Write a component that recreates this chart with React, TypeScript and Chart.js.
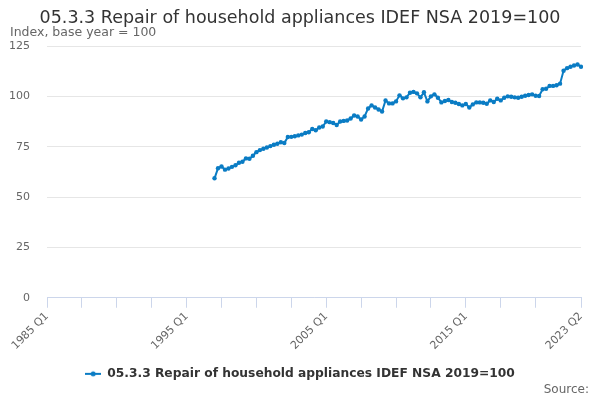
import { useEffect, useRef } from 'react';
import { Chart, registerables } from 'chart.js';

Chart.register(...registerables);

const FONT = '"DejaVu Sans", Verdana, sans-serif';
const TITLE = '05.3.3 Repair of household appliances IDEF NSA 2019=100';
const SUBTITLE = 'Index, base year = 100';
const SERIES_NAME = '05.3.3 Repair of household appliances IDEF NSA 2019=100';
const LINE_COLOR = '#0a7cc4';

// quarterly categories, 1985 Q1 .. 2023 Q2
const quarters: string[] = [];
for (let y = 1985; y <= 2023; y++) {
  for (let q = 1; q <= 4; q++) {
    if (y === 2023 && q > 2) break;
    quarters.push(`${y} Q${q}`);
  }
}

const labelledQuarters = ['1985 Q1', '1995 Q1', '2005 Q1', '2015 Q1', '2023 Q2'];
const yTicks = [0, 25, 50, 75, 100, 125];

// series begins in 1997 Q1
const firstQuarter = '1997 Q1';
const indexValues = [
  59.3, 64.3, 65.2, 63.6, 64.2, 65.0, 65.8, 67.0, 67.5, 69.2, 69.0, 70.5,
  72.3, 73.3, 74.0, 74.6, 75.3, 76.0, 76.5, 77.2, 76.8, 79.8, 79.9, 80.2,
  80.6, 81.0, 81.8, 82.2, 83.8, 83.2, 84.5, 85.0, 87.5, 87.2, 86.8, 85.8,
  87.5, 87.8, 88.0, 89.0, 90.5, 90.0, 88.5, 90.0, 94.0, 95.5, 94.5, 93.5,
  92.5, 98.0, 96.5, 96.5, 97.5, 100.5, 99.0, 99.5, 101.8, 102.2, 101.5, 99.5,
  102.0, 97.5, 100.0, 101.0, 99.3, 97.0, 97.7, 98.2, 97.2, 96.8, 96.2, 95.5,
  96.2, 94.5, 96.0, 97.0, 97.0, 96.8, 96.3, 98.0, 97.2, 98.8, 98.0, 99.3,
  100.0, 99.8, 99.5, 99.3, 99.8, 100.3, 100.7, 101.0, 100.3, 100.2, 103.5, 103.8,
  105.2, 105.2, 105.5, 106.3, 112.7, 114.0, 114.7, 115.3, 115.8, 114.7,
];

const sourceNote = {
  id: 'sourceNote',
  afterDraw(chart: Chart) {
    const { ctx } = chart;
    ctx.save();
    ctx.font = `12px ${FONT}`;
    ctx.fillStyle = '#666666';
    ctx.textAlign = 'right';
    ctx.textBaseline = 'middle';
    ctx.fillText('Source:', 589, 390);
    ctx.restore();
  },
};

function makeLegendIcon() {
  const c = document.createElement('canvas');
  c.width = 16;
  c.height = 8;
  const g = c.getContext('2d')!;
  g.strokeStyle = LINE_COLOR;
  g.lineWidth = 2;
  g.beginPath();
  g.moveTo(0, 4);
  g.lineTo(16, 4);
  g.stroke();
  g.fillStyle = LINE_COLOR;
  g.beginPath();
  g.arc(8, 4, 2.5, 0, Math.PI * 2);
  g.fill();
  return c;
}

function QuarterlyChart() {
  const canvasRef = useRef<HTMLCanvasElement>(null);
  const chartRef = useRef<Chart | null>(null);

  useEffect(() => {
    if (!canvasRef.current) return;
    const ctx = canvasRef.current.getContext('2d');
    if (!ctx) return;

    const start = quarters.indexOf(firstQuarter);
    const data = quarters.map((_, i) => (i >= start ? indexValues[i - start] ?? null : null));
    const last = quarters.length - 1;
    const icon = makeLegendIcon();

    chartRef.current?.destroy();
    chartRef.current = new Chart(ctx, {
      type: 'line',
      data: {
        labels: quarters,
        datasets: [{
          label: SERIES_NAME,
          data,
          borderColor: LINE_COLOR,
          backgroundColor: LINE_COLOR,
          borderWidth: 2,
          pointRadius: 2.2,
          pointHoverRadius: 2.2,
          pointBorderWidth: 0,
          tension: 0,
          spanGaps: false,
        }],
      },
      options: {
        animation: false,
        responsive: false,
        layout: { padding: { left: 10, right: 10, top: 0, bottom: 10 } },
        plugins: {
          title: {
            display: true,
            text: TITLE,
            color: '#333333',
            font: { family: FONT, size: 17.5, weight: 'normal', lineHeight: 1 },
            padding: { top: 10, bottom: 0 },
          },
          subtitle: {
            display: true,
            text: SUBTITLE,
            align: 'start',
            color: '#666666',
            font: { family: FONT, size: 12.5, lineHeight: 1 },
            padding: { top: -1.5, bottom: 7.5 },
          },
          legend: {
            position: 'bottom',
            labels: {
              usePointStyle: true,
              pointStyleWidth: 16,
              padding: 10,
              color: '#333333',
              font: { family: FONT, size: 12.25, weight: 'bold' },
              generateLabels: (chart) =>
                Chart.defaults.plugins.legend.labels
                  .generateLabels(chart)
                  .map((l) => ({ ...l, pointStyle: icon })),
            },
          },
          tooltip: { enabled: false },
        },
        scales: {
          x: {
            type: 'category',
            offset: false,
            grid: {
              drawOnChartArea: false,
              tickLength: 10,
              color: (c) =>
                (c.index % 10 === 0 && c.index < last - 5) || c.index === last
                  ? '#ccd6eb'
                  : 'rgba(0,0,0,0)',
            },
            border: { color: '#ccd6eb' },
            ticks: {
              autoSkip: false,
              minRotation: 45,
              maxRotation: 45,
              padding: 2,
              color: '#666666',
              font: { family: FONT, size: 11 },
              callback: (_v, i) => (labelledQuarters.includes(quarters[i]) ? quarters[i] : ''),
            },
            afterFit: (s) => { s.height = 60; },
          },
          y: {
            min: yTicks[0],
            max: yTicks[yTicks.length - 1],
            afterBuildTicks: (s) => { s.ticks = yTicks.map((v) => ({ value: v })); },
            grid: { color: '#e6e6e6', drawTicks: false },
            border: { display: false },
            ticks: {
              padding: 17,
              color: '#666666',
              font: { family: FONT, size: 11 },
            },
            afterFit: (s) => { s.width = 37; },
          },
          // empty right-hand margin so title and legend centre on the page
          yRightMargin: {
            position: 'right',
            grid: { display: false, drawTicks: false },
            border: { display: false },
            ticks: { display: false },
            afterFit: (s) => { s.width = 9; },
          },
        },
      },
      plugins: [sourceNote],
    });

    return () => { chartRef.current?.destroy(); };
  }, []);

  return <canvas ref={canvasRef} width={600} height={400} />;
}

export default function App() {
  return (
    <div style={{ position: 'fixed', left: 0, top: 0, width: 600, height: 400, background: '#fff' }}>
      <QuarterlyChart />
    </div>
  );
}
